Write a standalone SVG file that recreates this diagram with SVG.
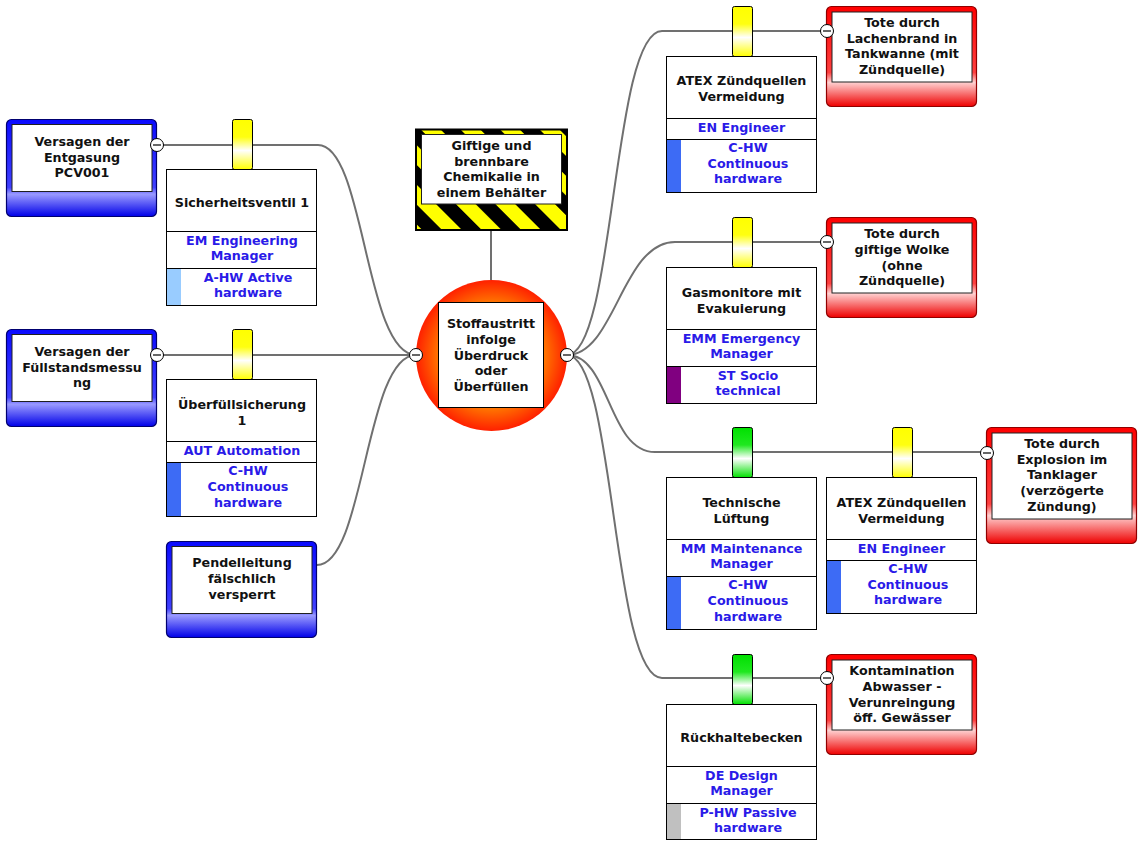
<svg xmlns="http://www.w3.org/2000/svg" width="1147" height="851" viewBox="0 0 1147 851">
<style>
.ln{fill:none;stroke:#707070;stroke-width:2}
.box{fill:#fff;stroke:#000;stroke-width:1}
.inner{fill:#fff;stroke:#202020;stroke-width:1}
.thr{fill:url(#gBlue);stroke:#000070;stroke-width:1.2}
.con{fill:url(#gRed);stroke:#900000;stroke-width:1.2}
.tabY{fill:url(#gYel);stroke:#000;stroke-width:1}
.tabG{fill:url(#gGrn);stroke:#000;stroke-width:1}
.knob{fill:#fff;stroke:#000;stroke-width:1}
.minus{stroke:#000;stroke-width:1.2}
text{font-family:"DejaVu Sans",Verdana,sans-serif;font-weight:bold;font-size:12.7px;text-anchor:middle;fill:#111}
.bl{fill:#2a1ae8}
</style>
<defs>
<linearGradient id="gBlue" x1="0" y1="0" x2="0" y2="1">
<stop offset="0" stop-color="#0a0aff"/>
<stop offset="0.7" stop-color="#4040ff"/>
<stop offset="0.77" stop-color="#9a9aff"/>
<stop offset="1" stop-color="#0000e8"/>
</linearGradient>
<linearGradient id="gRed" x1="0" y1="0" x2="0" y2="1">
<stop offset="0" stop-color="#ff0000"/>
<stop offset="0.66" stop-color="#ff4040"/>
<stop offset="0.76" stop-color="#ffd0d0"/>
<stop offset="1" stop-color="#ee0000"/>
</linearGradient>
<linearGradient id="gYel" x1="0" y1="0" x2="0" y2="1">
<stop offset="0" stop-color="#ffff00"/>
<stop offset="0.35" stop-color="#ffff10"/>
<stop offset="0.62" stop-color="#ffffff"/>
<stop offset="1" stop-color="#ffff00"/>
</linearGradient>
<linearGradient id="gGrn" x1="0" y1="0" x2="0" y2="1">
<stop offset="0" stop-color="#00e000"/>
<stop offset="0.35" stop-color="#20e820"/>
<stop offset="0.62" stop-color="#ffffff"/>
<stop offset="1" stop-color="#00e000"/>
</linearGradient>
<radialGradient id="gTop" cx="0.5" cy="0.5" r="0.5">
<stop offset="0" stop-color="#ffc000"/>
<stop offset="0.55" stop-color="#ffa000"/>
<stop offset="1" stop-color="#ff2000"/>
</radialGradient>
<pattern id="stripes" x="416" y="129" width="28" height="28" patternUnits="userSpaceOnUse" patternTransform="rotate(-45)">
<rect width="28" height="28" fill="#ffff00"/>
<rect width="14" height="28" fill="#000"/>
</pattern>
</defs>
<rect width="1147" height="851" fill="#fff"/>

<g id="connectors">
<path class="ln" d="M157 145 H318 C365 145 365 355 416 355"/>
<path class="ln" d="M157 355 H416"/>
<path class="ln" d="M317 565 C365 565 365 355 416 355"/>
<path class="ln" d="M491 230 V280"/>
<path class="ln" d="M567 355 C615 355 612 31 662 31 H827"/>
<path class="ln" d="M567 355 C615 355 622 242 675 242 H827"/>
<path class="ln" d="M567 355 C610 355 608 452 655 452 H987"/>
<path class="ln" d="M567 355 C615 355 612 678 662 678 H827"/>
</g>

<g id="threat1">
<rect class="thr" x="6.5" y="119.5" width="150" height="97" rx="5"/>
<rect class="inner" x="12" y="124.5" width="140" height="67"/>
<text><tspan x="82" y="146">Versagen der</tspan><tspan x="82" y="161.5">Entgasung</tspan><tspan x="82" y="177">PCV001</tspan></text>
<circle class="knob" cx="157" cy="145" r="6.5"/><line class="minus" x1="153" y1="145" x2="161" y2="145"/>
</g>

<g id="threat2">
<rect class="thr" x="6.5" y="329.5" width="150" height="97" rx="5"/>
<rect class="inner" x="12" y="334.5" width="140" height="67"/>
<text><tspan x="82" y="356">Versagen der</tspan><tspan x="82" y="371.5">Füllstandsmessu</tspan><tspan x="82" y="387">ng</tspan></text>
<circle class="knob" cx="157" cy="355" r="6.5"/><line class="minus" x1="153" y1="355" x2="161" y2="355"/>
</g>

<g id="threat3">
<rect class="thr" x="166.5" y="541.5" width="150" height="96" rx="5"/>
<rect class="inner" x="172" y="546.5" width="140" height="67"/>
<text><tspan x="242" y="567">Pendelleitung</tspan><tspan x="242" y="583">fälschlich</tspan><tspan x="242" y="598.5">versperrt</tspan></text>
</g>

<g id="barrier1">
<rect class="tabY" x="232.5" y="119.5" width="20" height="50" rx="2"/>
<rect class="box" x="166.5" y="169.5" width="150" height="136"/>
<line class="box" x1="166.5" y1="231.5" x2="316.5" y2="231.5"/>
<line class="box" x1="166.5" y1="268.5" x2="316.5" y2="268.5"/>
<rect x="167" y="269" width="14" height="36" fill="#99ccff"/>
<text x="242" y="207">Sicherheitsventil 1</text>
<text class="bl"><tspan x="242" y="245">EM Engineering</tspan><tspan x="242" y="260">Manager</tspan></text>
<text class="bl"><tspan x="248" y="282">A-HW Active</tspan><tspan x="248" y="297">hardware</tspan></text>
</g>

<g id="barrier2">
<rect class="tabY" x="232.5" y="329.5" width="20" height="50" rx="2"/>
<rect class="box" x="166.5" y="379.5" width="150" height="137"/>
<line class="box" x1="166.5" y1="441.5" x2="316.5" y2="441.5"/>
<line class="box" x1="166.5" y1="462.5" x2="316.5" y2="462.5"/>
<rect x="167" y="463" width="14" height="53" fill="#3d6bf5"/>
<text><tspan x="242" y="409">Überfüllsicherung</tspan><tspan x="242" y="425">1</tspan></text>
<text class="bl" x="242" y="455">AUT Automation</text>
<text class="bl"><tspan x="248" y="475">C-HW</tspan><tspan x="248" y="491">Continuous</tspan><tspan x="248" y="507">hardware</tspan></text>
</g>

<g id="hazard">
<rect x="416" y="129.5" width="151" height="100.5" fill="url(#stripes)" stroke="#000" stroke-width="2"/>
<rect class="inner" x="421.5" y="134.5" width="140" height="69.5"/>
<text><tspan x="491.5" y="150">Giftige und</tspan><tspan x="491.5" y="165.5">brennbare</tspan><tspan x="491.5" y="181">Chemikalie in</tspan><tspan x="491.5" y="196.5">einem Behälter</tspan></text>
</g>

<g id="topevent">
<circle cx="491.5" cy="355.5" r="75.5" fill="url(#gTop)"/>
<rect class="box" x="438.5" y="302.5" width="105" height="105"/>
<text><tspan x="491" y="328">Stoffaustritt</tspan><tspan x="491" y="344">infolge</tspan><tspan x="491" y="359.5">Überdruck</tspan><tspan x="491" y="375">oder</tspan><tspan x="491" y="390.5">Überfüllen</tspan></text>
<circle class="knob" cx="416" cy="355" r="6.5"/><line class="minus" x1="412" y1="355" x2="420" y2="355"/>
<circle class="knob" cx="567" cy="355" r="6.5"/><line class="minus" x1="563" y1="355" x2="571" y2="355"/>
</g>

<g id="barrier3">
<rect class="tabY" x="732.5" y="6.5" width="20" height="50" rx="2"/>
<rect class="box" x="666.5" y="56.5" width="150" height="136"/>
<line class="box" x1="666.5" y1="118.5" x2="816.5" y2="118.5"/>
<line class="box" x1="666.5" y1="139.5" x2="816.5" y2="139.5"/>
<rect x="667" y="140" width="14" height="52" fill="#3d6bf5"/>
<text><tspan x="741.5" y="85">ATEX Zündquellen</tspan><tspan x="741.5" y="100.5">Vermeidung</tspan></text>
<text class="bl" x="741.5" y="132">EN Engineer</text>
<text class="bl"><tspan x="748" y="152">C-HW</tspan><tspan x="748" y="168">Continuous</tspan><tspan x="748" y="183">hardware</tspan></text>
</g>

<g id="cons1">
<rect class="con" x="826.5" y="6.5" width="150" height="100" rx="5"/>
<rect class="inner" x="832" y="12" width="140" height="70"/>
<text><tspan x="902" y="27">Tote durch</tspan><tspan x="902" y="42.5">Lachenbrand in</tspan><tspan x="902" y="58">Tankwanne (mit</tspan><tspan x="902" y="73.5">Zündquelle)</tspan></text>
<circle class="knob" cx="827" cy="31" r="6.5"/><line class="minus" x1="823" y1="31" x2="831" y2="31"/>
</g>

<g id="barrier4">
<rect class="tabY" x="732.5" y="217.5" width="20" height="50" rx="2"/>
<rect class="box" x="666.5" y="267.5" width="150" height="136"/>
<line class="box" x1="666.5" y1="329.5" x2="816.5" y2="329.5"/>
<line class="box" x1="666.5" y1="366.5" x2="816.5" y2="366.5"/>
<rect x="667" y="367" width="14" height="36" fill="#800080"/>
<text><tspan x="741.5" y="297">Gasmonitore mit</tspan><tspan x="741.5" y="312.5">Evakuierung</tspan></text>
<text class="bl"><tspan x="741.5" y="343">EMM Emergency</tspan><tspan x="741.5" y="358">Manager</tspan></text>
<text class="bl"><tspan x="748" y="380">ST Socio</tspan><tspan x="748" y="394.5">technical</tspan></text>
</g>

<g id="cons2">
<rect class="con" x="826.5" y="217.5" width="150" height="100" rx="5"/>
<rect class="inner" x="832" y="223" width="140" height="70"/>
<text><tspan x="902" y="238">Tote durch</tspan><tspan x="902" y="254">giftige Wolke</tspan><tspan x="902" y="269.5">(ohne</tspan><tspan x="902" y="285">Zündquelle)</tspan></text>
<circle class="knob" cx="827" cy="242" r="6.5"/><line class="minus" x1="823" y1="242" x2="831" y2="242"/>
</g>

<g id="barrier5">
<rect class="tabG" x="732.5" y="427.5" width="20" height="50" rx="2"/>
<rect class="box" x="666.5" y="477.5" width="150" height="152"/>
<line class="box" x1="666.5" y1="539.5" x2="816.5" y2="539.5"/>
<line class="box" x1="666.5" y1="576.5" x2="816.5" y2="576.5"/>
<rect x="667" y="577" width="14" height="52" fill="#3d6bf5"/>
<text><tspan x="741.5" y="507">Technische</tspan><tspan x="741.5" y="522.5">Lüftung</tspan></text>
<text class="bl"><tspan x="741.5" y="553">MM Maintenance</tspan><tspan x="741.5" y="568">Manager</tspan></text>
<text class="bl"><tspan x="748" y="589">C-HW</tspan><tspan x="748" y="605">Continuous</tspan><tspan x="748" y="620.5">hardware</tspan></text>
</g>

<g id="barrier6">
<rect class="tabY" x="892.5" y="427.5" width="20" height="50" rx="2"/>
<rect class="box" x="826.5" y="477.5" width="150" height="136"/>
<line class="box" x1="826.5" y1="539.5" x2="976.5" y2="539.5"/>
<line class="box" x1="826.5" y1="560.5" x2="976.5" y2="560.5"/>
<rect x="827" y="561" width="14" height="52" fill="#3d6bf5"/>
<text><tspan x="901.5" y="507">ATEX Zündquellen</tspan><tspan x="901.5" y="522.5">Vermeidung</tspan></text>
<text class="bl" x="901.5" y="553">EN Engineer</text>
<text class="bl"><tspan x="908" y="573">C-HW</tspan><tspan x="908" y="589">Continuous</tspan><tspan x="908" y="604">hardware</tspan></text>
</g>

<g id="cons3">
<rect class="con" x="986.5" y="427.5" width="150" height="116" rx="5"/>
<rect class="inner" x="992" y="433" width="140" height="86"/>
<text><tspan x="1062" y="448">Tote durch</tspan><tspan x="1062" y="463.5">Explosion im</tspan><tspan x="1062" y="479">Tanklager</tspan><tspan x="1062" y="495">(verzögerte</tspan><tspan x="1062" y="510.5">Zündung)</tspan></text>
<circle class="knob" cx="987" cy="453" r="6.5"/><line class="minus" x1="983" y1="453" x2="991" y2="453"/>
</g>

<g id="barrier7">
<rect class="tabG" x="732.5" y="654.5" width="20" height="50" rx="2"/>
<rect class="box" x="666.5" y="704.5" width="150" height="135"/>
<line class="box" x1="666.5" y1="766.5" x2="816.5" y2="766.5"/>
<line class="box" x1="666.5" y1="803.5" x2="816.5" y2="803.5"/>
<rect x="667" y="804" width="14" height="35" fill="#c0c0c0"/>
<text x="741.5" y="742">Rückhaltebecken</text>
<text class="bl"><tspan x="741.5" y="780">DE Design</tspan><tspan x="741.5" y="795">Manager</tspan></text>
<text class="bl"><tspan x="748" y="817">P-HW Passive</tspan><tspan x="748" y="832">hardware</tspan></text>
</g>

<g id="cons4">
<rect class="con" x="826.5" y="654.5" width="150" height="100" rx="5"/>
<rect class="inner" x="832" y="660" width="140" height="70"/>
<text><tspan x="902" y="675">Kontamination</tspan><tspan x="902" y="690.5">Abwasser -</tspan><tspan x="902" y="706.5">Verunreingung</tspan><tspan x="902" y="721.5">öff. Gewässer</tspan></text>
<circle class="knob" cx="827" cy="678" r="6.5"/><line class="minus" x1="823" y1="678" x2="831" y2="678"/>
</g>
</svg>
